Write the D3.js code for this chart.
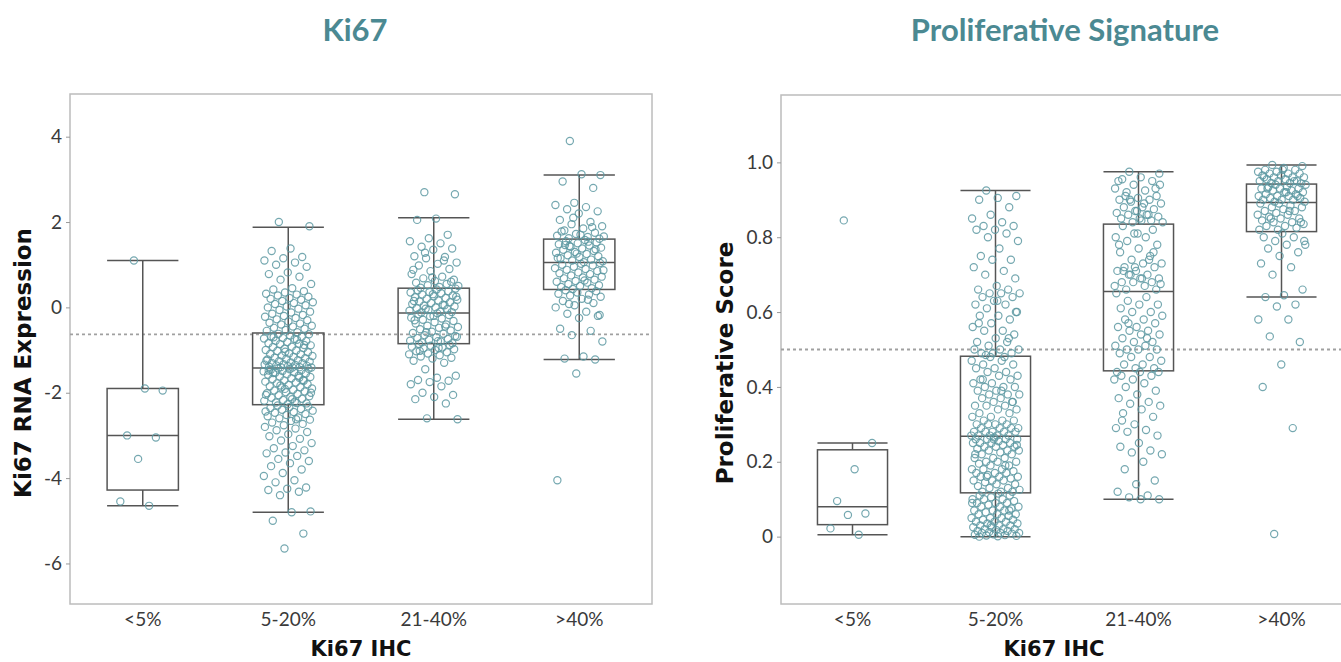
<!DOCTYPE html>
<html>
<head>
<meta charset="utf-8">
<script src="https://cdn.jsdelivr.net/npm/d3@7"></script>
<style>
  body { margin: 0; background: #fff; }
  svg text { font-family: Lato, "Open Sans", sans-serif; }
  svg text.axis-title { font-family: "DejaVu Sans", sans-serif; }
</style>
</head>
<body>
<div id="chart"></div>
<script>
const width = 1341, height = 662;

const categories = ["<5%", "5-20%", "21-40%", ">40%"];

// Ki67 RNA expression, points per IHC group
const ki67Points = [
  [1.10, -1.95, -1.90, -3.00, -3.05, -3.55, -4.55, -4.65],
  [2.00, 1.90, 1.38, 1.32, 1.18, 1.15, 1.10, 1.05, 1.00, 0.95, 0.82, 0.78, 0.72, 0.65, 0.55, 0.45, 0.42, 0.38, 0.35, 0.32,
   0.30, 0.28, 0.25, 0.22, 0.20, 0.18, 0.15, 0.12, 0.10, 0.08, 0.05, 0.02, 0.00, -0.03, -0.06, -0.10, -0.12, -0.15, -0.18, -0.20,
   -0.22, -0.25, -0.28, -0.30, -0.33, -0.36, -0.38, -0.40, -0.43, -0.45, -0.48, -0.50, -0.53, -0.55, -0.58,
   -0.62, -0.63, -0.66, -0.68, -0.69, -0.72, -0.73, -0.74, -0.78, -0.79, -0.81, -0.84, -0.85, -0.86, -0.89, -0.92, -0.93, -0.95, -0.97, -1.00,
   -1.01, -1.02, -1.05, -1.08, -1.09, -1.10, -1.13, -1.14, -1.16, -1.18, -1.19, -1.21, -1.22, -1.24, -1.26, -1.27, -1.29, -1.30, -1.31, -1.33,
   -1.34, -1.35, -1.36, -1.37, -1.38, -1.39, -1.40, -1.40, -1.41, -1.41, -0.70, -0.88, -1.04, -1.25, -0.76,
   -1.43, -1.44, -1.45, -1.46, -1.47, -1.49, -1.50, -1.52, -1.53, -1.55, -1.57, -1.58, -1.60, -1.62, -1.63, -1.66, -1.68, -1.70, -1.71, -1.74,
   -1.76, -1.78, -1.80, -1.82, -1.85, -1.87, -1.88, -1.90, -1.93, -1.95, -1.97, -1.99, -2.01, -2.03, -2.06, -2.08, -2.10, -2.12, -2.14, -2.17,
   -2.19, -2.21, -2.23, -2.25, -2.27, -1.48, -1.65, -1.83, -2.00, -2.15, -1.54, -1.72, -1.91, -2.05, -2.24,
   -2.30, -2.32, -2.34, -2.36, -2.38, -2.40, -2.42, -2.45, -2.47, -2.50, -2.52, -2.55, -2.58, -2.60, -2.63, -2.66, -2.70, -2.73, -2.76, -2.80,
   -2.84, -2.88, -2.92, -2.97, -3.02, -3.08, -3.12, -3.18, -3.25, -3.30, -3.35, -3.40, -3.42, -3.48, -3.55, -3.60, -3.65, -3.72, -3.80, -3.88,
   -3.95, -4.05, -4.10, -4.22, -4.25, -4.28, -4.32, -4.40, -4.78, -4.80, -5.00, -5.30, -5.65, -2.44, -2.62],
  [2.70, 2.65, 2.08, 2.05, 1.70, 1.62, 1.55, 1.50, 1.42, 1.38, 1.35, 1.20, 1.18, 1.15, 1.05, 1.02, 0.98, 0.90, 0.85, 0.78,
   0.72, 0.68, 0.65, 0.62, 0.58, 0.55, 0.52, 0.50, 0.48, 0.46, 0.60, 0.70, 0.88, 1.10, 1.28,
   0.44, 0.42, 0.40, 0.38, 0.36, 0.35, 0.33, 0.30, 0.28, 0.26, 0.24, 0.22, 0.20, 0.18, 0.16, 0.14, 0.12, 0.10, 0.08, 0.06,
   0.04, 0.02, 0.00, -0.02, -0.04, -0.06, -0.08, -0.10, -0.12, -0.11, 0.31, 0.15, 0.05, -0.03, 0.25,
   -0.14, -0.16, -0.18, -0.21, -0.24, -0.26, -0.29, -0.32, -0.35, -0.38, -0.40, -0.43, -0.46, -0.48, -0.51, -0.54, -0.57, -0.60, -0.62, -0.65,
   -0.67, -0.70, -0.72, -0.74, -0.76, -0.78, -0.80, -0.82, -0.84, -0.20, -0.30, -0.45, -0.58, -0.69, -0.79,
   -0.86, -0.88, -0.90, -0.92, -0.94, -0.96, -0.98, -1.00, -1.03, -1.05, -1.08, -1.10, -1.12, -1.15, -1.18, -1.20, -1.25, -1.30, -1.45, -1.60,
   -1.65, -1.70, -1.72, -1.75, -1.80, -1.85, -2.00, -2.05, -2.10, -2.15, -2.25, -2.60, -2.62, -0.95, -1.02],
  [3.90, 3.10, 3.12, 2.95, 2.80, 2.45, 2.40, 2.35, 2.30, 2.25, 2.20, 2.05, 2.00, 1.95, 1.90, 1.85, 1.80, 1.75, 1.72, 1.68,
   1.65, 1.62, 1.61, 1.70, 1.78, 1.88, 2.10, 1.66,
   1.58, 1.55, 1.52, 1.50, 1.48, 1.45, 1.42, 1.40, 1.38, 1.35, 1.32, 1.30, 1.28, 1.25, 1.22, 1.20, 1.18, 1.15, 1.12, 1.10,
   1.08, 1.06, 1.46, 1.36, 1.26, 1.16, 1.54, 1.44,
   1.04, 1.02, 1.00, 0.98, 0.95, 0.92, 0.90, 0.88, 0.85, 0.82, 0.80, 0.78, 0.75, 0.72, 0.70, 0.68, 0.65, 0.62, 0.60, 0.58,
   0.55, 0.52, 0.50, 0.48, 0.45, 0.43, 0.87, 0.63,
   0.40, 0.38, 0.35, 0.32, 0.30, 0.28, 0.25, 0.20, 0.15, 0.10, 0.05, 0.00, -0.10, -0.15, -0.20, -0.25, -0.50, -0.55, -0.65, -0.80,
   -1.15, -1.20, -1.22, -1.55, -4.05, 0.18, 0.08, -0.18]
];
// box stats: [whisker low, q1, median, q3, whisker high]
const ki67Boxes = [
  [-4.65, -4.28, -3.00, -1.90, 1.10],
  [-4.80, -2.28, -1.42, -0.60, 1.88],
  [-2.62, -0.85, -0.13, 0.45, 2.10],
  [-1.22, 0.42, 1.05, 1.60, 3.10]
];
const ki67Ticks = [4, 2, 0, -2, -4, -6];
const ki67Cutoff = -0.63;

// Proliferative score, points per IHC group
const profPoints = [
  [0.845, 0.25, 0.18, 0.095, 0.062, 0.058, 0.022, 0.005],
  [0.925, 0.91, 0.905, 0.90, 0.88, 0.86, 0.85, 0.84, 0.83, 0.83, 0.82, 0.82, 0.81, 0.80, 0.79, 0.77, 0.75, 0.74, 0.74, 0.72,
   0.71, 0.70, 0.69, 0.67, 0.66, 0.66, 0.65, 0.65, 0.65, 0.64, 0.64, 0.63, 0.62, 0.62, 0.61, 0.60, 0.59, 0.59, 0.58, 0.57,
   0.56, 0.55, 0.55, 0.54, 0.53, 0.52, 0.52, 0.51, 0.50, 0.50, 0.49, 0.49, 0.49, 0.50, 0.48, 0.485, 0.60, 0.63, 0.57, 0.53,
   0.48, 0.47, 0.47, 0.46, 0.46, 0.45, 0.45, 0.44, 0.44, 0.43, 0.43, 0.42, 0.42, 0.41, 0.41, 0.40, 0.40, 0.40, 0.39, 0.39,
   0.38, 0.38, 0.38, 0.37, 0.37, 0.36, 0.36, 0.35, 0.35, 0.35, 0.34, 0.34, 0.33, 0.33, 0.32, 0.32, 0.31, 0.31, 0.31, 0.30,
   0.30, 0.30, 0.30, 0.29, 0.29, 0.29, 0.29, 0.28, 0.28, 0.28, 0.28, 0.28, 0.27, 0.27, 0.27, 0.27, 0.27, 0.39, 0.42, 0.36,
   0.265, 0.26, 0.26, 0.26, 0.26, 0.255, 0.25, 0.25, 0.25, 0.25, 0.245, 0.24, 0.24, 0.24, 0.235, 0.23, 0.23, 0.23, 0.225, 0.22,
   0.22, 0.21, 0.21, 0.21, 0.20, 0.20, 0.20, 0.195, 0.19, 0.19, 0.18, 0.18, 0.18, 0.175, 0.17, 0.17, 0.17, 0.165, 0.16, 0.16,
   0.16, 0.155, 0.15, 0.15, 0.15, 0.145, 0.14, 0.14, 0.135, 0.13, 0.13, 0.125, 0.12, 0.12, 0.12, 0.26, 0.22, 0.19, 0.16, 0.245,
   0.115, 0.11, 0.11, 0.105, 0.10, 0.10, 0.10, 0.095, 0.09, 0.09, 0.09, 0.085, 0.08, 0.08, 0.08, 0.075, 0.07, 0.07, 0.07, 0.065,
   0.06, 0.06, 0.06, 0.055, 0.05, 0.05, 0.05, 0.045, 0.045, 0.04, 0.04, 0.04, 0.035, 0.035, 0.03, 0.03, 0.03, 0.025, 0.025, 0.02,
   0.02, 0.02, 0.018, 0.015, 0.015, 0.012, 0.01, 0.01, 0.01, 0.008, 0.006, 0.005, 0.004, 0.003, 0.002, 0.001, 0.0, 0.07, 0.03, 0.09],
  [0.975, 0.97, 0.96, 0.955, 0.95, 0.94, 0.93, 0.925, 0.92, 0.91, 0.905, 0.90, 0.90, 0.895, 0.89, 0.88, 0.88, 0.875, 0.87, 0.865,
   0.86, 0.86, 0.855, 0.85, 0.85, 0.845, 0.84, 0.84, 0.89, 0.91, 0.93, 0.87, 0.95, 0.86, 0.90, 0.94, 0.845,
   0.83, 0.82, 0.81, 0.80, 0.80, 0.79, 0.78, 0.77, 0.76, 0.75, 0.74, 0.73, 0.73, 0.72, 0.72, 0.71, 0.71, 0.70, 0.70, 0.69,
   0.69, 0.68, 0.68, 0.68, 0.67, 0.67, 0.66, 0.66, 0.81, 0.78, 0.74, 0.70, 0.675, 0.69, 0.71, 0.76, 0.72,
   0.65, 0.64, 0.63, 0.62, 0.62, 0.61, 0.60, 0.60, 0.59, 0.58, 0.58, 0.57, 0.56, 0.56, 0.55, 0.55, 0.54, 0.54, 0.53, 0.52,
   0.52, 0.51, 0.51, 0.50, 0.50, 0.50, 0.49, 0.48, 0.48, 0.47, 0.46, 0.46, 0.45, 0.45, 0.44, 0.53, 0.57,
   0.44, 0.44, 0.43, 0.43, 0.42, 0.42, 0.41, 0.40, 0.39, 0.38, 0.37, 0.36, 0.355, 0.35, 0.34, 0.33, 0.32, 0.30, 0.29, 0.285,
   0.28, 0.27, 0.25, 0.24, 0.23, 0.225, 0.22, 0.20, 0.18, 0.15, 0.14, 0.12, 0.11, 0.105, 0.10, 0.10, 0.31],
  [0.993, 0.99, 0.985, 0.98, 0.98, 0.975, 0.975, 0.97, 0.97, 0.97, 0.965, 0.965, 0.96, 0.96, 0.96, 0.955, 0.955, 0.95, 0.95, 0.95,
   0.945, 0.945, 0.944, 0.98, 0.96, 0.95,
   0.94, 0.94, 0.935, 0.935, 0.93, 0.93, 0.93, 0.925, 0.925, 0.92, 0.92, 0.915, 0.915, 0.91, 0.91, 0.91, 0.905, 0.905, 0.90, 0.90,
   0.90, 0.895, 0.895, 0.92, 0.93, 0.91,
   0.89, 0.89, 0.885, 0.88, 0.88, 0.875, 0.87, 0.87, 0.865, 0.86, 0.86, 0.855, 0.85, 0.85, 0.845, 0.84, 0.84, 0.835, 0.83, 0.83,
   0.825, 0.82, 0.82, 0.87, 0.85, 0.84,
   0.81, 0.80, 0.80, 0.79, 0.78, 0.78, 0.77, 0.76, 0.75, 0.73, 0.72, 0.70, 0.66, 0.645, 0.64, 0.62, 0.615, 0.58, 0.58, 0.535,
   0.52, 0.46, 0.40, 0.29, 0.007, 0.79]
];
const profBoxes = [
  [0.005, 0.032, 0.08, 0.232, 0.25],
  [0.0, 0.117, 0.268, 0.482, 0.925],
  [0.10, 0.443, 0.655, 0.835, 0.975],
  [0.64, 0.815, 0.893, 0.942, 0.993]
];
const profTicks = [1.0, 0.8, 0.6, 0.4, 0.2, 0];
const profCutoff = 0.5;

const teal = "#4b8992";
const pointColor = "#5d99a2";

const svg = d3.select("#chart").append("svg")
    .attr("width", width)
    .attr("height", height);

function drawPanel(o) {
  const x = d3.scaleBand().domain(categories).range([o.left, o.right]).padding(0);
  const y = d3.scaleLinear().domain(o.domain).range([o.bottom, o.top]);
  const g = svg.append("g");
  const bw = x.bandwidth();
  const boxW = bw * 0.49;

  // title
  g.append("text")
      .attr("x", o.titleX).attr("y", 41)
      .attr("text-anchor", "middle")
      .attr("fill", teal)
      .attr("font-size", 31).attr("font-weight", 700)
      .text(o.title);

  // frame
  g.append("rect")
      .attr("x", o.left).attr("y", o.top)
      .attr("width", o.right - o.left).attr("height", o.bottom - o.top)
      .attr("fill", "none").attr("stroke", "#bcbcbc").attr("stroke-width", 1.5);

  // y axis
  const yAxis = g.append("g")
      .attr("transform", "translate(" + o.left + ",0)")
      .call(d3.axisLeft(y).tickValues(o.ticks).tickSize(4).tickPadding(4).tickFormat(o.fmt));
  yAxis.select(".domain").remove();
  yAxis.selectAll(".tick line").attr("stroke", "#999");
  yAxis.selectAll("text").attr("font-size", 19).attr("fill", "#3a3a3a");

  // x axis
  const xAxis = g.append("g")
      .attr("transform", "translate(0," + o.bottom + ")")
      .call(d3.axisBottom(x).tickSize(0).tickPadding(9));
  xAxis.select(".domain").remove();
  xAxis.selectAll("text").attr("font-size", 19).attr("fill", "#3a3a3a");

  // axis titles
  g.append("text")
      .attr("class", "axis-title")
      .attr("x", (o.left + Math.min(o.right, width)) / 2 + o.xTitleShift).attr("y", 656)
      .attr("text-anchor", "middle")
      .attr("font-size", 21).attr("font-weight", 700).attr("fill", "#111")
      .text("Ki67 IHC");
  g.append("text")
      .attr("class", "axis-title")
      .attr("transform", "translate(" + o.yTitleX + ",363) rotate(-90)")
      .attr("text-anchor", "middle")
      .attr("font-size", 23).attr("font-weight", 700).attr("fill", "#111")
      .text(o.yTitle);

  // cutoff line
  g.append("line")
      .attr("x1", o.left).attr("x2", o.right)
      .attr("y1", y(o.cutoff)).attr("y2", y(o.cutoff))
      .attr("stroke", "#a0a0a0").attr("stroke-width", 1.8)
      .attr("stroke-dasharray", "3,3");

  // boxes
  const boxes = g.selectAll(".box")
      .data(o.boxes.map((b, i) => ({ cat: categories[i], b: b })))
      .enter().append("g")
      .attr("class", "box")
      .attr("stroke", "#555").attr("stroke-width", 1.5).attr("fill", "none");
  boxes.append("line")
      .attr("x1", d => x(d.cat) + bw / 2).attr("x2", d => x(d.cat) + bw / 2)
      .attr("y1", d => y(d.b[0])).attr("y2", d => y(d.b[1]));
  boxes.append("line")
      .attr("x1", d => x(d.cat) + bw / 2).attr("x2", d => x(d.cat) + bw / 2)
      .attr("y1", d => y(d.b[3])).attr("y2", d => y(d.b[4]));
  boxes.append("rect")
      .attr("x", d => x(d.cat) + (bw - boxW) / 2).attr("width", boxW)
      .attr("y", d => y(d.b[3])).attr("height", d => y(d.b[1]) - y(d.b[3]));
  [0, 2, 4].forEach(k => {
    boxes.append("line")
        .attr("x1", d => x(d.cat) + (bw - boxW) / 2).attr("x2", d => x(d.cat) + (bw + boxW) / 2)
        .attr("y1", d => y(d.b[k])).attr("y2", d => y(d.b[k]));
  });

  // jittered points (deterministic spread by index)
  const pts = [];
  o.points.forEach((arr, i) => {
    arr.forEach((v, j) => pts.push({ cat: categories[i], v: v, j: j, n: arr.length }));
  });
  g.append("g").selectAll("circle")
      .data(pts).enter().append("circle")
      .attr("cx", d => {
        const f = ((d.j * 0.6180339887 + 0.31) % 1) - 0.5;
        const spread = d.n < 20 ? 0.32 : 0.34;
        return x(d.cat) + bw / 2 + f * bw * spread;
      })
      .attr("cy", d => y(d.v))
      .attr("r", 3.6)
      .attr("fill", "none")
      .attr("stroke", pointColor)
      .attr("stroke-width", 1.2)
      .attr("opacity", 0.85);
}

drawPanel({
  title: "Ki67", titleX: 355,
  left: 70, right: 652, top: 94, bottom: 604,
  domain: [-6.95, 5.0], ticks: ki67Ticks, fmt: d => String(d),
  points: ki67Points, boxes: ki67Boxes, cutoff: ki67Cutoff,
  yTitle: "Ki67 RNA Expression", yTitleX: 31, xTitleShift: 0
});

drawPanel({
  title: "Proliferative Signature", titleX: 1065,
  left: 781, right: 1353, top: 95, bottom: 604,
  domain: [-0.18, 1.18], ticks: profTicks, fmt: d => d === 0 ? "0" : d.toFixed(1),
  points: profPoints, boxes: profBoxes, cutoff: profCutoff,
  yTitle: "Proliferative Score", yTitleX: 733, xTitleShift: -7
});
</script>
</body>
</html>
